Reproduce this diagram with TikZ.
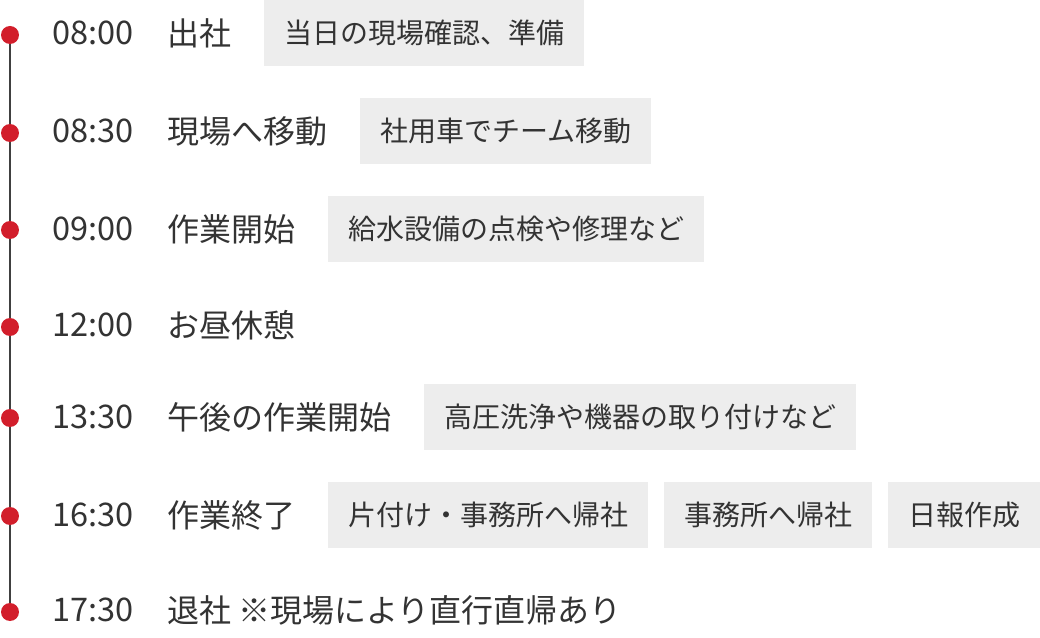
\documentclass[tikz,border=0pt]{standalone}
\usepackage{fontspec}
\setmainfont{Noto Sans CJK JP}
\definecolor{dotred}{HTML}{D21E2B}
\begin{document}
\begin{tikzpicture}[x=0.75pt,y=-0.75pt,
  dot/.style={circle,fill=dotred,draw=none,minimum size=13.5pt,inner sep=0},
  tm/.style={anchor=west,text=black!80,font=\fontsize{24.4}{26}\selectfont,inner sep=0},
  lab/.style={anchor=west,text=black!80,font=\fontsize{24}{26}\selectfont,inner sep=0},
  bx/.style={fill=black!7,text=black!80,font=\fontsize{21}{24}\selectfont,minimum height=49.5pt,inner xsep=15pt,anchor=west}]
\useasboundingbox (0,0) rectangle (1040,638);
\foreach \n/\y in {1/35,2/133,3/230,4/327,5/418,6/516,7/612}{\coordinate (c\n) at (10,\y);}
\draw[black!75,line width=1.5pt] (c1) -- (c7);
\foreach \n/\y in {1/35,2/133,3/230,4/327,5/418,6/516,7/612}{\node[dot] (d\n) at (c\n) {};}
\node[tm] (t1) at (52,33) {08:00}; \node[lab] (l1) at (167,33) {出社};
\node[bx] (b1) at (264,33) {当日の現場確認、準備};
\node[tm] (t2) at (52,131) {08:30}; \node[lab] (l2) at (167,131) {現場へ移動};
\node[bx] (b2) at (360,131) {社用車でチーム移動};
\node[tm] (t3) at (52,229) {09:00}; \node[lab] (l3) at (167,229) {作業開始};
\node[bx] (b3) at (328,229) {給水設備の点検や修理など};
\node[tm] (t4) at (52,325) {12:00}; \node[lab] (l4) at (167,325) {お昼休憩};
\node[tm] (t5) at (52,417) {13:30}; \node[lab] (l5) at (167,417) {午後の作業開始};
\node[bx] (b5) at (424,417) {高圧洗浄や機器の取り付けなど};
\node[tm] (t6) at (52,515) {16:30}; \node[lab] (l6) at (167,515) {作業終了};
\node[bx] (b6) at (328,515) {片付け・事務所へ帰社};
\node[bx] (b7) at (664,515) {事務所へ帰社};
\node[bx] (b8) at (888,515) {日報作成};
\node[tm] (t7) at (52,610) {17:30}; \node[lab] (l7) at (167,610) {退社 ※現場により直行直帰あり};
\end{tikzpicture}
\end{document}
